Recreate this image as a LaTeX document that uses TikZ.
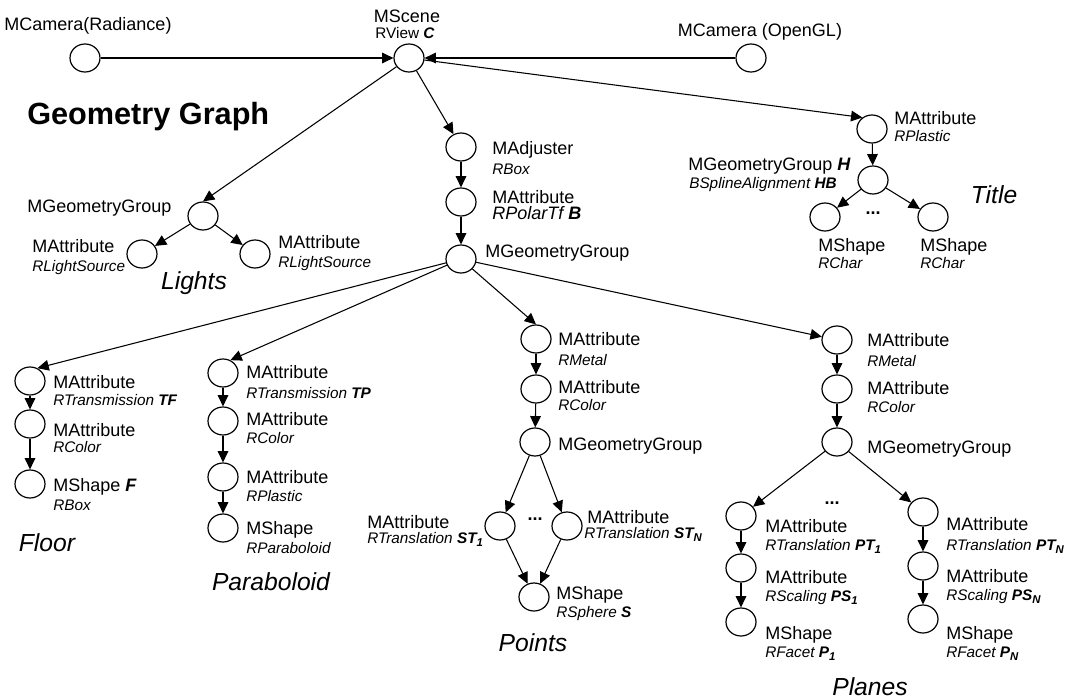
\documentclass[tikz,border=0pt]{standalone}
\usepackage{fontspec}
\setmainfont{Liberation Sans}
\usetikzlibrary{shapes.geometric,arrows.meta}
% bold italic subscript used in the instance names
\newcommand\bsub[1]{\raisebox{-0.4ex}{\fontsize{8.5}{9}\selectfont\bfseries\itshape #1}}
\newcommand\bi[1]{\textbf{\textit{#1}}}
\begin{document}
\begin{tikzpicture}[x=0.75pt,y=-0.75pt,
  nd/.style={draw, ellipse, line width=0.9pt, minimum width=22.5pt, minimum height=21pt, inner sep=0pt},
  ar/.style={-{Triangle[length=8.5pt,width=8pt]}, line width=0.8pt},
  lbl/.style={anchor=west, inner sep=0pt, font=\fontsize{13.5}{16}\selectfont, text height=9.6pt, text depth=0pt},
  sub/.style={anchor=west, inner sep=0pt, font=\fontsize{11.5}{14}\selectfont\itshape, text height=8.2pt, text depth=0pt},
  grp/.style={inner sep=0pt, font=\fontsize{18.5}{22}\selectfont\itshape},
  dots/.style={inner sep=0pt, font=\fontsize{13.5}{16}\selectfont\bfseries},
]
\useasboundingbox (0,0) rectangle (1068,700);

% ---------- cameras and scene ----------
\node[nd] (camR) at (85,58) {};
\node[lbl, anchor=center] (camRl) at (88,24) {MCamera(Radiance)};
\node[nd] (scene) at (409,58) {};
\node[lbl, anchor=center] (scenel) at (407,16) {MScene};
\node[sub, anchor=center, font=\fontsize{11.5}{14}\selectfont] (scenes) at (405,33) {RView \bi{C}};
\node[nd] (camG) at (751,58) {};
\node[lbl, anchor=center] (camGl) at (760,30) {MCamera (OpenGL)};

\node[anchor=west, inner sep=0pt, font=\fontsize{23}{27}\selectfont\bfseries, text height=16.5pt, text depth=0pt] (title) at (27,113) {Geometry Graph};

% ---------- title branch ----------
\node[nd] (tAttr) at (872,129) {};
\node[lbl] (tAttrl) at (894,118) {MAttribute};
\node[sub] (tAttrs) at (894,136) {RPlastic};
\node[nd] (tGroup) at (873,180) {};
\node[lbl] (tGroupl) at (688,164) {MGeometryGroup \bi{H}};
\node[sub] (tGroups) at (689,183) {BSplineAlignment \textbf{HB}};
\node[nd] (tShape1) at (825,217) {};
\node[nd] (tShape2) at (933,217) {};
\node[dots] (tdots) at (873,213) {...};
\node[lbl] (tShape1l) at (818,245) {MShape};
\node[sub] (tShape1s) at (818,263) {RChar};
\node[lbl] (tShape2l) at (920,245) {MShape};
\node[sub] (tShape2s) at (920,263) {RChar};
\node[grp] (tTitle) at (994,195) {Title};

% ---------- lights ----------
\node[nd] (lGroup) at (203,216) {};
\node[lbl] (lGroupl) at (27,206) {MGeometryGroup};
\node[nd] (lA1) at (142,254) {};
\node[lbl] (lA1l) at (32,246) {MAttribute};
\node[sub] (lA1s) at (32,266) {RLightSource};
\node[nd] (lA2) at (255,254) {};
\node[lbl] (lA2l) at (278,242) {MAttribute};
\node[sub] (lA2s) at (278,262) {RLightSource};
\node[grp] (lTitle) at (194,283) {Lights};

% ---------- main column ----------
\node[nd] (adj) at (461,147) {};
\node[lbl] (adjl) at (492,148) {MAdjuster};
\node[sub] (adjs) at (492,169) {RBox};
\node[nd] (polar) at (461,202) {};
\node[lbl] (polarl) at (492,197) {MAttribute};
\node[sub, font=\fontsize{13.5}{16}\selectfont\itshape] (polars) at (492,214) {RPolarTf \textbf{B}};
\node[nd] (mGroup) at (461,259) {};
\node[lbl] (mGroupl) at (485,251) {MGeometryGroup};

% ---------- floor ----------
\node[nd] (fA1) at (30,381) {};
\node[lbl] (fA1l) at (53,382) {MAttribute};
\node[sub] (fA1s) at (53,400) {RTransmission \textbf{TF}};
\node[nd] (fA2) at (30,424) {};
\node[lbl] (fA2l) at (53,430) {MAttribute};
\node[sub] (fA2s) at (53,447) {RColor};
\node[nd] (fShape) at (30,484) {};
\node[lbl] (fShapel) at (53,485) {MShape \bi{F}};
\node[sub] (fShapes) at (53,505) {RBox};
\node[grp] (fTitle) at (47,543) {Floor};

% ---------- paraboloid ----------
\node[nd] (pA1) at (223,373) {};
\node[lbl] (pA1l) at (246,372) {MAttribute};
\node[sub] (pA1s) at (246,393) {RTransmission \textbf{TP}};
\node[nd] (pA2) at (223,421) {};
\node[lbl] (pA2l) at (246,419) {MAttribute};
\node[sub] (pA2s) at (246,438) {RColor};
\node[nd] (pA3) at (223,477) {};
\node[lbl] (pA3l) at (246,477) {MAttribute};
\node[sub] (pA3s) at (246,496) {RPlastic};
\node[nd] (pShape) at (223,528) {};
\node[lbl] (pShapel) at (246,528) {MShape};
\node[sub] (pShapes) at (246,548) {RParaboloid};
\node[grp] (pTitle) at (271,582) {Paraboloid};

% ---------- points ----------
\node[nd] (ptA1) at (536,339) {};
\node[lbl] (ptA1l) at (558,339) {MAttribute};
\node[sub] (ptA1s) at (558,360) {RMetal};
\node[nd] (ptA2) at (536,389) {};
\node[lbl] (ptA2l) at (558,387) {MAttribute};
\node[sub] (ptA2s) at (558,405) {RColor};
\node[nd] (ptGroup) at (535,442) {};
\node[lbl] (ptGroupl) at (558,444) {MGeometryGroup};
\node[nd] (ptST1) at (500,526) {};
\node[lbl] (ptST1l) at (367,522) {MAttribute};
\node[sub] (ptST1s) at (367,538) {RTranslation \textbf{ST}\bsub{1}};
\node[nd] (ptSTN) at (567,526) {};
\node[lbl] (ptSTNl) at (587,517) {MAttribute};
\node[sub] (ptSTNs) at (584,533) {RTranslation \textbf{ST}\bsub{N}};
\node[dots] (ptdots) at (535,519) {...};
\node[nd] (ptShape) at (534,597) {};
\node[lbl] (ptShapel) at (556,593) {MShape};
\node[sub] (ptShapes) at (556,612) {RSphere \textbf{S}};
\node[grp] (ptTitle) at (533,643) {Points};

% ---------- planes ----------
\node[nd] (plA1) at (837,340) {};
\node[lbl] (plA1l) at (867,340) {MAttribute};
\node[sub] (plA1s) at (867,361) {RMetal};
\node[nd] (plA2) at (837,389) {};
\node[lbl] (plA2l) at (867,388) {MAttribute};
\node[sub] (plA2s) at (867,407) {RColor};
\node[nd] (plGroup) at (837,442) {};
\node[lbl] (plGroupl) at (867,447) {MGeometryGroup};
\node[nd] (plL1) at (741,516) {};
\node[lbl] (plL1l) at (765,526) {MAttribute};
\node[sub] (plL1s) at (765,545) {RTranslation \textbf{PT}\bsub{1}};
\node[nd] (plL2) at (741,568) {};
\node[lbl] (plL2l) at (765,577) {MAttribute};
\node[sub] (plL2s) at (765,596) {RScaling \textbf{PS}\bsub{1}};
\node[nd] (plL3) at (741,622) {};
\node[lbl] (plL3l) at (765,633) {MShape};
\node[sub] (plL3s) at (765,652) {RFacet \textbf{P}\bsub{1}};
\node[nd] (plR1) at (923,512) {};
\node[lbl] (plR1l) at (946,524) {MAttribute};
\node[sub] (plR1s) at (946,545) {RTranslation \textbf{PT}\bsub{N}};
\node[nd] (plR2) at (923,566) {};
\node[lbl] (plR2l) at (946,576) {MAttribute};
\node[sub] (plR2s) at (946,595) {RScaling \textbf{PS}\bsub{N}};
\node[nd] (plR3) at (923,619) {};
\node[lbl] (plR3l) at (946,633) {MShape};
\node[sub] (plR3s) at (946,652) {RFacet \textbf{P}\bsub{N}};
\node[dots] (pldots) at (832,503) {...};
\node[grp] (plTitle) at (870,687) {Planes};

% ---------- connectors ----------
\draw[ar] (camR) -- (scene);
\draw[ar] (camG) -- (scene);
\draw[ar] (scene) -- (tAttr.130);
\draw[ar] (scene) -- (lGroup.north);
\draw[ar] (scene) -- (adj);

\draw[ar] (tAttr) -- (tGroup);
\draw[ar] (tGroup) -- (tShape1);
\draw[ar] (tGroup) -- (tShape2);

\draw[ar] (lGroup) -- (lA1);
\draw[ar] (lGroup) -- (lA2);

\draw[ar] (adj) -- (polar);
\draw[ar] (polar) -- (mGroup);

\draw[ar] (mGroup) -- (fA1.60);
\draw[ar] (mGroup) -- (pA1.60);
\draw[ar] (mGroup) -- (ptA1.north);
\draw[ar] (mGroup) -- (plA1);

\draw[ar] (fA1) -- (fA2);
\draw[ar] (fA2) -- (fShape);

\draw[ar] (pA1) -- (pA2);
\draw[ar] (pA2) -- (pA3);
\draw[ar] (pA3) -- (pShape);

\draw[ar] (ptA1) -- (ptA2);
\draw[ar] (ptA2) -- (ptGroup);
\draw[ar] (ptGroup) -- (ptST1);
\draw[ar] (ptGroup) -- (ptSTN);
\draw[ar] (ptST1) -- (ptShape);
\draw[ar] (ptSTN) -- (ptShape);

\draw[ar] (plA1) -- (plA2);
\draw[ar] (plA2) -- (plGroup);
\draw[ar] (plGroup) -- (plL1);
\draw[ar] (plGroup) -- (plR1);
\draw[ar] (plL1) -- (plL2);
\draw[ar] (plL2) -- (plL3);
\draw[ar] (plR1) -- (plR2);
\draw[ar] (plR2) -- (plR3);
\end{tikzpicture}
\end{document}
